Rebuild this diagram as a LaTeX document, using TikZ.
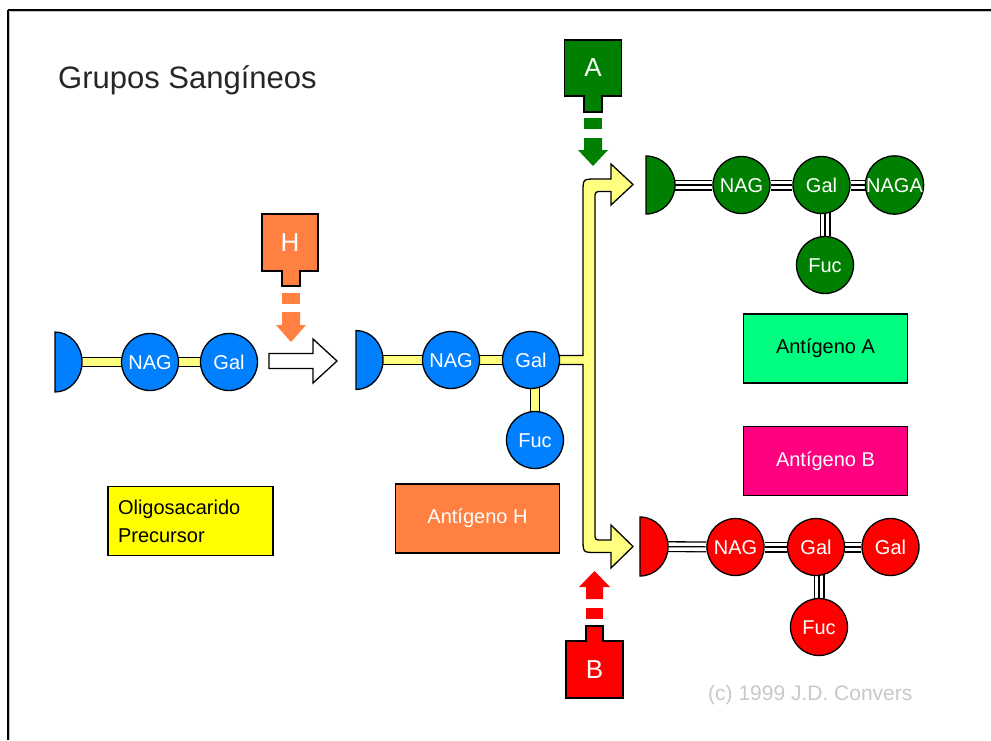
\documentclass[tikz,border=0pt]{standalone}
\usepackage{fontspec}
\setmainfont{Liberation Sans}
\usetikzlibrary{backgrounds,calc}
\definecolor{cblue}{HTML}{0080FF}
\definecolor{cgreen}{HTML}{008000}
\definecolor{cred}{HTML}{FF0000}
\definecolor{corange}{HTML}{FF8040}
\definecolor{cbond}{HTML}{FFFF80}
\definecolor{cyel}{HTML}{FFFF00}
\definecolor{cmint}{HTML}{00FF80}
\definecolor{cmag}{HTML}{FF0080}
\definecolor{cgray}{HTML}{C8C8C8}
\begin{document}
\begin{tikzpicture}[x=1pt,y=-1pt,
  sugar/.style={circle, draw=black, line width=1.3pt, minimum size=57pt, inner sep=0pt, text=white, text height=14pt, text depth=0pt, font=\fontsize{20}{24}\selectfont},
  sbond/.style={line width=10pt, draw=black, postaction={draw=cbond, line width=7.4pt}},
  dbond/.style={line width=11pt, draw=black, postaction={draw=white, line width=8.4pt}, postaction={draw=black, line width=1.2pt}},
  outl/.style={draw=black, line width=1.3pt, line join=miter},
  lbl/.style={draw=black, line width=1.3pt, text width=145pt, align=left, inner xsep=10pt, inner ysep=0pt, minimum height=69pt, font=\fontsize{20}{28}\selectfont},
  lblc/.style={draw=black, line width=1.3pt, minimum width=164pt, minimum height=69pt, inner sep=0pt, font=\fontsize{20}{24}\selectfont},
  enzl/.style={text=white, font=\fontsize{26}{30}\selectfont, inner sep=0pt},
]
\useasboundingbox (0,0) rectangle (991,740);
% frame
\draw[line width=2pt] (8,10) -- (991,10);
\draw[line width=2pt] (8,10) -- (8,740);
\draw[cgray, line width=0.8pt] (9.5,11.6) -- (991,11.6);
\draw[cgray, line width=0.8pt] (9.6,11.5) -- (9.6,740);

% title
\node[anchor=base west, inner sep=0pt, font=\fontsize{31}{36}\selectfont, text=black!85] (title) at (58,88) {Grupos Sangíneos};

% ---------- precursor chain ----------
\coordinate (p0) at (55,362);
\node[sugar, fill=cblue] (pNAG) at (150,362) {NAG};
\node[sugar, fill=cblue] (pGal) at (229,362) {Gal};
\filldraw[fill=cblue, outl] (55,332) arc[start angle=90, end angle=-90, x radius=27pt, y radius=30pt] -- cycle;

% ---------- H chain ----------
\coordinate (h0) at (356,360);
\node[sugar, fill=cblue] (hNAG) at (451,360) {NAG};
\node[sugar, fill=cblue] (hGal) at (531,360) {Gal};
\node[sugar, fill=cblue] (hFuc) at (535,440) {Fuc};
\filldraw[fill=cblue, outl] (356,330.5) arc[start angle=90, end angle=-90, x radius=27pt, y radius=29.5pt] -- cycle;

% ---------- A chain ----------
\coordinate (a0) at (646,185);
\node[sugar, fill=cgreen] (aNAG) at (741.5,185) {NAG};
\node[sugar, fill=cgreen] (aGal) at (821.5,185) {Gal};
\node[sugar, fill=cgreen] (aNAGA) at (894.5,185) {NAGA};
\node[sugar, fill=cgreen] (aFuc) at (825,265) {Fuc};
\filldraw[fill=cgreen, outl] (646,156) arc[start angle=90, end angle=-90, x radius=29pt, y radius=29pt] -- cycle;

% ---------- B chain ----------
\coordinate (b0) at (640,546.5);
\node[sugar, fill=cred] (bNAG) at (735.5,547) {NAG};
\node[sugar, fill=cred] (bGal) at (816,547) {Gal};
\node[sugar, fill=cred] (bGal2) at (890.5,547) {Gal};
\node[sugar, fill=cred] (bFuc) at (819,627) {Fuc};
\filldraw[fill=cred, outl] (640,517) arc[start angle=90, end angle=-90, x radius=28pt, y radius=29.5pt] -- cycle;

% bonds and branch arrow behind
\begin{scope}[on background layer]
  \draw[sbond] (p0) -- (pNAG);
  \draw[sbond] (pNAG) -- (pGal);
  \draw[sbond] (h0) -- (hNAG);
  \draw[sbond] (hNAG) -- (hGal);
  \draw[sbond] (hFuc) -- (hFuc |- hGal);
  \draw[dbond] (a0) -- (aNAG);
  \draw[dbond] (aNAG) -- (aGal);
  \draw[dbond] (aGal) -- (aNAGA);
  \draw[dbond] (aFuc) -- (aFuc |- aGal);
  \draw[dbond] (b0) -- (bNAG);
  \draw[dbond] (bNAG) -- (bGal);
  \draw[dbond] (bGal) -- (bGal2);
  \draw[dbond] (bFuc) -- (bFuc |- bGal);
  % branching yellow arrow
  \filldraw[fill=cbond, outl] ($(hGal)+(0,-4.5)$) -- (583,355.5) -- (583,192)
    .. controls (583,179) .. (596,179) -- (611,179) -- (611,164) -- (633,184.5)
    -- (611,205) -- (611,191.5) -- (602,191.5) .. controls (595,191.5) .. (595,199)
    -- (595,533) .. controls (595,540) .. (602,540) -- (611,540) -- (611,525)
    -- (633,546.5) -- (611,568) -- (611,552.5) -- (596,552.5)
    .. controls (583,552.5) .. (583,539) -- (583,364.5) -- ($(hGal)+(0,4.5)$) -- cycle;
\end{scope}

% hollow reaction arrow
\filldraw[fill=white, outl] (269,353.5) -- (313,353.5) -- (313,339) -- (337,361) -- (313,383) -- (313,368.5) -- (269,368.5) -- cycle;

% ---------- enzyme H ----------
\filldraw[fill=corange, outl] (262,214) -- (318,214) -- (318,271) -- (300,271) -- (300,286) -- (282,286) -- (282,271) -- (262,271) -- cycle;
\node[enzl] (eH) at (290,242.5) {H};
\fill[corange] (282,293) rectangle (300,304);
\fill[corange] (282,312) -- (300,312) -- (300,325) -- (306,325) -- (291,342) -- (276,325) -- (282,325) -- cycle;

% ---------- enzyme A ----------
\filldraw[fill=cgreen, outl] (564.5,40) -- (621.5,40) -- (621.5,96) -- (602,96) -- (602,112) -- (584,112) -- (584,96) -- (564.5,96) -- cycle;
\node[enzl] (eA) at (593,68) {A};
\fill[cgreen] (584,118) rectangle (602,129);
\fill[cgreen] (584,138) -- (602,138) -- (602,150) -- (608,150) -- (593,166) -- (578,150) -- (584,150) -- cycle;

% ---------- enzyme B ----------
\filldraw[fill=cred, outl] (566,698) -- (623,698) -- (623,641) -- (603,641) -- (603,626) -- (586,626) -- (586,641) -- (566,641) -- cycle;
\node[enzl] (eB) at (594.5,669.5) {B};
\fill[cred] (586,608) rectangle (603,619);
\fill[cred] (586,599) -- (603,599) -- (603,587) -- (610,587) -- (594.5,571) -- (579,587) -- (586,587) -- cycle;

% ---------- labels ----------
\node[lbl, fill=cyel] (lP) at (190.5,521) {Oligosacarido\\Precursor};
\node[lblc, fill=corange, text=white] (lH) at (477.5,518.5) {Antígeno H};
\node[lblc, fill=cmint, text=black] (lA) at (825.5,348.5) {Antígeno A};
\node[lblc, fill=cmag, text=white] (lB) at (825.5,461) {Antígeno B};

% copyright
\node[anchor=base west, inner sep=0pt, text=cgray, font=\fontsize{21}{24}\selectfont] (copy) at (708,700) {(c) 1999 J.D. Convers};
\end{tikzpicture}
\end{document}
